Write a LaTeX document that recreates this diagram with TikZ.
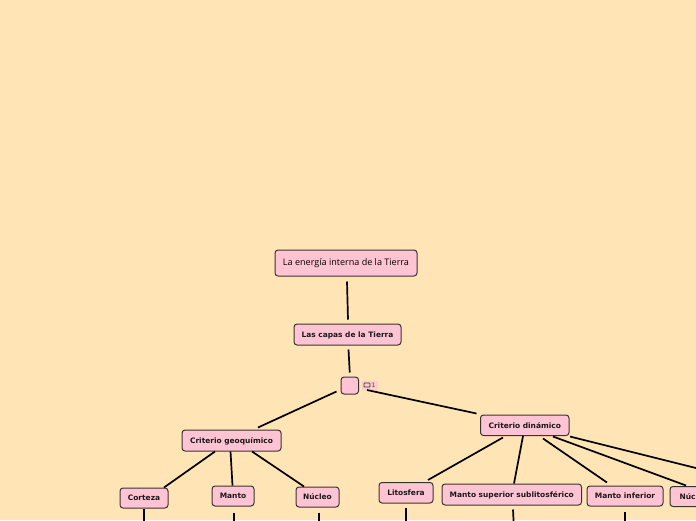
\documentclass[tikz,border=0pt]{standalone}
\usepackage{fontspec}
\setmainfont{DejaVu Sans}
\newfontfamily\titlefont{Open Sans}
\definecolor{bgc}{HTML}{FFE4B5}
\definecolor{boxc}{HTML}{FFC4D4}
\definecolor{edgec}{HTML}{3A3333}
\tikzset{
  box/.style={draw=edgec,fill=boxc,line width=1pt,rounded corners=3pt,inner sep=0pt,text height=6.9pt,text depth=1.2pt,font=\fontsize{7.45}{8}\bfseries\selectfont,text=black!90},
  titlebox/.style={box,text height=7pt,text depth=2pt,font=\fontsize{9.05}{11}\titlefont\selectfont,text=black},
  link/.style={draw=black,line width=1.7pt}
}
\begin{document}
\begin{tikzpicture}[x=1pt,y=-1pt]
\fill[bgc] (0,0) rectangle (696,520);
\useasboundingbox (0,0) rectangle (696,520);
\clip (0,0) rectangle (696,520);
\node[titlebox,minimum width=142pt,minimum height=26pt] (t) at (346,263) {La energía interna de la Tierra};
\node[box,minimum width=107pt,minimum height=21pt] (capas) at (347.5,334.5) {Las capas de la Tierra};
\node[box,minimum width=17.5pt,minimum height=17pt] (empty) at (349.75,385.5) {};
\node[fill=boxc,opacity=0.75,text opacity=1,minimum width=16pt,minimum height=9pt,inner sep=0pt,font=\fontsize{6}{6}\selectfont,text=black!75] (badge) at (369.5,385.5) {\hspace{8pt}1};
\draw[edgec,line width=0.6pt,rounded corners=0.6pt] ([xshift=-5.5pt,yshift=2.5pt]badge.center) rectangle ([xshift=0.5pt,yshift=-1.5pt]badge.center);
\node[box,minimum width=99pt,minimum height=21pt] (geo) at (231.5,440.5) {Criterio geoquímico};
\node[box,minimum width=88.5pt,minimum height=20.5pt] (din) at (524.75,425.25) {Criterio dinámico};
\node[box,minimum width=48pt,minimum height=20pt] (cor) at (144,498) {Corteza};
\node[box,minimum width=42pt,minimum height=20pt] (man) at (233,496) {Manto};
\node[box,minimum width=43pt,minimum height=20pt] (nuc) at (317.5,497) {Núcleo};
\node[box,minimum width=54pt,minimum height=20.5pt] (lit) at (406,492.75) {Litosfera};
\node[box,minimum width=139.5pt,minimum height=21pt] (sup) at (511.75,494.5) {Manto superior sublitosférico};
\node[box,minimum width=76pt,minimum height=20pt] (inf) at (625,496) {Manto inferior};
\node[box,minimum width=48pt,minimum height=20pt] (nd) at (694,496.5) {Núcleo};
\coordinate (off) at (720,474);
\coordinate (e1) at (144,530);
\coordinate (e2) at (234,530);
\coordinate (e3) at (319,530);
\coordinate (e4) at (406,530);
\coordinate (e5) at (514,530);
\coordinate (e6) at (625,530);
\draw[link] ([xshift=1pt,yshift=-5pt]t.south) -- ([xshift=0.5pt,yshift=4pt]capas.north);
\draw[link] ([xshift=1pt,yshift=-4pt]capas.south) -- ([yshift=4pt]empty.north);
\draw[link] ([xshift=-4pt,yshift=-6pt]empty.west) -- ([xshift=26.5pt,yshift=2pt]geo.north);
\draw[link] ([xshift=8pt,yshift=-4.5pt]empty.east) -- ([xshift=-3.5pt,yshift=1pt]din.north west);
\draw[link] ([xshift=-16.5pt]geo.south) -- ([xshift=20pt]cor.north);
\draw[link] ([xshift=-1pt]geo.south) -- ([xshift=-0.5pt]man.north);
\draw[link] ([xshift=20.5pt]geo.south) -- ([xshift=-13.5pt]nuc.north);
\draw[link] ([xshift=-21.75pt,yshift=-1.5pt]din.south) -- ([xshift=22pt,yshift=2pt]lit.north);
\draw[link] ([xshift=-1.75pt]din.south) -- ([xshift=2.25pt]sup.north);
\draw[link] ([xshift=18.25pt,yshift=-2.5pt]din.south) -- ([xshift=-18pt,yshift=3pt]inf.north);
\draw[link] ([xshift=28.25pt,yshift=-0.5pt]din.south) -- ([xshift=-8pt,yshift=0.5pt]nd.north);
\draw[link] ([xshift=45.25pt,yshift=-0.5pt]din.south) -- (off);
\draw[link] (cor.south) -- (e1);
\draw[link] ([xshift=1pt,yshift=-6pt]man.south) -- (e2);
\draw[link] ([xshift=1.5pt,yshift=-5pt]nuc.south) -- (e3);
\draw[link] ([yshift=-4pt]lit.south) -- (e4);
\draw[link] ([xshift=1.25pt,yshift=-4pt]sup.south) -- (e5);
\draw[link] ([yshift=-5pt]inf.south) -- (e6);
\end{tikzpicture}
\end{document}
